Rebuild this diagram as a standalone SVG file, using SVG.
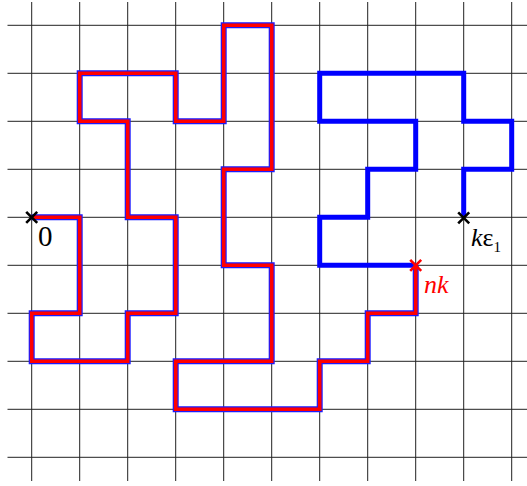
<svg xmlns="http://www.w3.org/2000/svg" width="527" height="486" viewBox="0 0 527 486">
<style>
.grid line{stroke:#222;stroke-width:1}
.walk{fill:none;stroke-linejoin:miter;stroke-linecap:butt}
.outline{stroke:#1a1aff;stroke-width:6}
.core{stroke:#ff0000;stroke-width:3.6}
.blue{stroke:#0000ff;stroke-width:5}
.cross{stroke-width:2.6;fill:none}
</style>
<rect width="527" height="486" fill="#fff"/>
<g id="grid" class="grid">
<line x1="31.7" y1="2" x2="31.7" y2="481"/>
<line x1="79.7" y1="2" x2="79.7" y2="481"/>
<line x1="127.7" y1="2" x2="127.7" y2="481"/>
<line x1="175.7" y1="2" x2="175.7" y2="481"/>
<line x1="223.7" y1="2" x2="223.7" y2="481"/>
<line x1="271.7" y1="2" x2="271.7" y2="481"/>
<line x1="319.7" y1="2" x2="319.7" y2="481"/>
<line x1="367.7" y1="2" x2="367.7" y2="481"/>
<line x1="415.7" y1="2" x2="415.7" y2="481"/>
<line x1="463.7" y1="2" x2="463.7" y2="481"/>
<line x1="511.7" y1="2" x2="511.7" y2="481"/>
<line x1="7.5" y1="25.3" x2="527" y2="25.3"/>
<line x1="7.5" y1="73.3" x2="527" y2="73.3"/>
<line x1="7.5" y1="121.3" x2="527" y2="121.3"/>
<line x1="7.5" y1="169.3" x2="527" y2="169.3"/>
<line x1="7.5" y1="217.3" x2="527" y2="217.3"/>
<line x1="7.5" y1="265.3" x2="527" y2="265.3"/>
<line x1="7.5" y1="313.3" x2="527" y2="313.3"/>
<line x1="7.5" y1="361.3" x2="527" y2="361.3"/>
<line x1="7.5" y1="409.3" x2="527" y2="409.3"/>
<line x1="7.5" y1="457.3" x2="527" y2="457.3"/>
</g>
<g id="connectors">
<defs>
<path id="redwalk" d="M31.7,217.3 H79.7 V313.3 H31.7 V361.3 H127.7 V313.3 H175.7 V217.3 H127.7 V121.3 H79.7 V73.3 H175.7 V121.3 H223.7 V25.3 H271.7 V169.3 H223.7 V265.3 H271.7 V361.3 H175.7 V409.3 H319.7 V361.3 H367.7 V313.3 H415.7 V265.3"/>
</defs>
<path id="blue-walk" class="walk blue" d="M463.7,217.3 V169.3 H511.7 V121.3 H463.7 V73.3 H319.7 V121.3 H415.7 V169.3 H367.7 V217.3 H319.7 V265.3 H415.7"/>
<use href="#redwalk" class="walk outline"/>
<use href="#redwalk" class="walk core"/>
</g>
<g id="origin">
<path class="cross" stroke="#000" d="M26.2,211.8 L37.2,222.8 M37.2,211.8 L26.2,222.8"/>
<text x="38" y="246" font-family="Liberation Serif, serif" font-size="29px" fill="#000">0</text>
</g>
<g id="nk">
<path class="cross" stroke="#ff0000" d="M410.2,259.8 L421.2,270.8 M421.2,259.8 L410.2,270.8"/>
<text x="424" y="293" style="font-family:'Liberation Serif',serif;font-size:26px;font-style:italic" fill="#ff0000">nk</text>
</g>
<g id="keps">
<path class="cross" stroke="#000" d="M458.2,212.3 L469.2,223.3 M469.2,212.3 L458.2,223.3"/>
<text x="471" y="246" style="font-family:'Liberation Serif',serif;font-size:26px" fill="#000"><tspan font-style="italic">k</tspan><tspan>ε</tspan><tspan style="font-size:15px" dy="6">1</tspan></text>
</g>
</svg>
